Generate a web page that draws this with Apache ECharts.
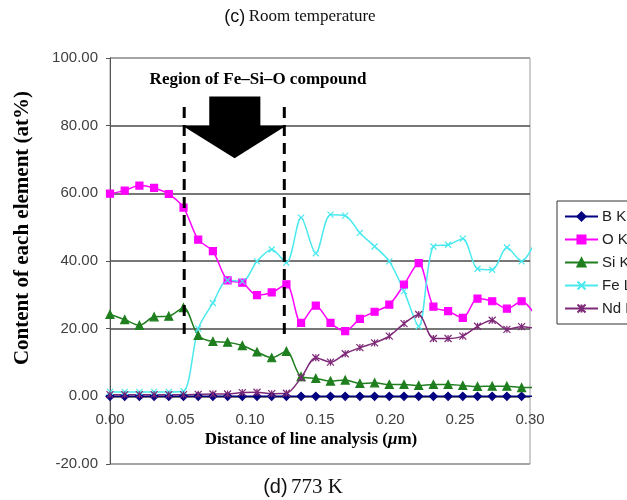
<!DOCTYPE html>
<html>
<head>
<meta charset="utf-8">
<script src="https://cdn.jsdelivr.net/npm/echarts@6.0.0/dist/echarts.min.js"></script>
<style>
  html, body { margin: 0; padding: 0; background: #fff; }
  #chart { width: 627px; height: 500px; }
</style>
</head>
<body>
<div id="chart"></div>
<script>
// distance of line analysis (um), measurement points
const distance = [0, 0.0105, 0.021, 0.0315, 0.042, 0.0525, 0.063, 0.0735, 0.084, 0.0945,
  0.105, 0.1155, 0.126, 0.1365, 0.147, 0.1575, 0.168, 0.1785, 0.189, 0.1995,
  0.21, 0.2205, 0.231, 0.2415, 0.252, 0.2625, 0.273, 0.2835, 0.294, 0.3045]

// content of each element (at%)
const bK = [0, 0, 0, 0, 0, 0, 0, 0, 0, 0, 0, 0, 0, 0, 0, 0, 0, 0, 0, 0, 0, 0, 0, 0, 0, 0, 0, 0, 0, 0]
const oK = [59.9, 60.8, 62.3, 61.6, 59.8, 55.8, 46.3, 42.9, 34.3, 33.6, 29.9, 30.7, 33.1, 21.7, 26.8,
  21.7, 19.3, 22.9, 25.0, 27.1, 33.0, 39.4, 26.5, 25.2, 23.2, 28.9, 28.1, 25.9, 28.1, 23.5]
const siK = [24.2, 22.7, 21.0, 23.5, 23.7, 26.2, 18.0, 16.2, 16.0, 15.0, 13.1, 11.4, 13.3, 5.8, 5.3,
  4.5, 4.8, 3.8, 4.0, 3.5, 3.5, 3.2, 3.5, 3.5, 3.2, 2.9, 3.0, 3.0, 2.6, 2.6]
const feL = [1.3, 1.3, 1.3, 1.3, 1.3, 1.5, 20.0, 27.6, 34.3, 34.0, 39.9, 43.4, 39.5, 52.8, 42.3,
  53.7, 53.4, 48.3, 44.3, 39.9, 31.1, 20.7, 44.3, 44.8, 46.6, 37.7, 37.4, 44.0, 39.9, 46.5]
const ndL = [0.5, 0.5, 0.5, 0.5, 0.5, 0.5, 0.6, 0.7, 0.7, 1.1, 1.2, 0.8, 0.9, 5.5, 11.4,
  10.1, 12.6, 14.4, 15.8, 17.8, 21.5, 24.2, 17.1, 17.1, 17.8, 20.7, 22.5, 19.8, 20.6, 20.0]

const seriesNames = ['B K', 'O K', 'Si K', 'Fe L', 'Nd L']
const yTicks = [-20, 100, 20]  // min, max, interval
const xTicks = [0, 0.3, 0.05]

// region annotation (data coords)
const regionLeft = [[0.053, 85.5], [0.053, 16.8]]
const regionRight = [[0.1245, 85.5], [0.1245, 16.8]]
const arrowShape = [[0.0709, 88.6], [0.1074, 88.6], [0.1074, 80], [0.1258, 80],
  [0.089, 70.4], [0.0518, 80], [0.0709, 80]]

const serif = 'Liberation Serif, Times New Roman, serif'
const sans = 'Liberation Sans, Arial, sans-serif'

function pairs(values) {
  return values.map((v, i) => [distance[i], v])
}

function elementSeries(name, values, color, symbol, size) {
  return {
    name: name,
    type: 'line',
    data: pairs(values),
    smooth: 0.3,
    symbol: symbol,
    symbolSize: size,
    showAllSymbol: true,
    clip: true,
    lineStyle: { color: color, width: 1.5 },
    itemStyle: { color: color, borderColor: color, borderWidth: 1.2 },
    emphasis: { disabled: true },
    z: 3
  }
}

const chart = echarts.init(document.getElementById('chart'), null, { renderer: 'canvas' })

const option = {
  animation: false,
  backgroundColor: '#fff',
  grid: { left: 110, right: 97, top: 58, bottom: 36, show: true, borderColor: '#999', borderWidth: 1 },
  legend: {
    orient: 'vertical',
    left: 557,
    top: 201,
    padding: [8, 8, 8, 7],
    itemGap: 8,
    itemWidth: 33,
    itemHeight: 10,
    borderColor: '#333',
    borderWidth: 1,
    backgroundColor: '#fff',
    data: seriesNames,
    textStyle: { fontFamily: sans, fontSize: 15, color: '#222', padding: [0, 0, 0, -1] }
  },
  xAxis: {
    type: 'value',
    min: xTicks[0],
    max: xTicks[1],
    interval: xTicks[2],
    axisLine: { onZero: true, lineStyle: { color: '#555', width: 1 } },
    axisTick: { show: false },
    splitLine: { show: false },
    axisLabel: {
      fontFamily: sans, fontSize: 15, color: '#404040', margin: -52,
      formatter: v => v.toFixed(2)
    }
  },
  yAxis: {
    type: 'value',
    min: yTicks[0],
    max: yTicks[1],
    interval: yTicks[2],
    axisLine: { show: true, lineStyle: { color: '#555', width: 1 } },
    axisTick: { show: true, length: 4, lineStyle: { color: '#555' } },
    splitLine: { show: true, lineStyle: { color: ['#999', '#4a4a4a', '#4a4a4a', '#4a4a4a', '#4a4a4a', '#4a4a4a', '#999'], width: 1.6 } },
    axisLabel: {
      fontFamily: sans, fontSize: 15, color: '#404040', margin: 12,
      formatter: v => v.toFixed(2)
    }
  },
  graphic: [
    {
      type: 'text', x: 300, y: 17,
      style: {
        text: '{s|(c)} {r|Room temperature}', align: 'center', verticalAlign: 'middle',
        rich: { s: { fontFamily: sans, fontSize: 18, fill: '#111' }, r: { fontFamily: serif, fontSize: 17, fill: '#111' } }
      }
    },
    {
      type: 'text', x: 303, y: 487,
      style: {
        text: '{s|(d)} {r|773 K}', align: 'center', verticalAlign: 'middle',
        rich: { s: { fontFamily: sans, fontSize: 20, fill: '#111' }, r: { fontFamily: serif, fontSize: 21, fill: '#111' } }
      }
    },
    {
      type: 'text', x: 258, y: 80, z: 10,
      style: { text: 'Region of Fe\u2013Si\u2013O compound', align: 'center', verticalAlign: 'middle', font: 'bold 17px ' + serif, fill: '#000' }
    },
    {
      type: 'text', x: 311, y: 440, z: 10,
      style: {
        text: '{b|Distance of line analysis (}{i|\u03bc}{b|m)}', align: 'center', verticalAlign: 'middle',
        rich: {
          b: { fontFamily: serif, fontWeight: 'bold', fontSize: 17, fill: '#000' },
          i: { fontFamily: serif, fontWeight: 'bold', fontStyle: 'italic', fontSize: 17, fill: '#000' }
        }
      }
    },
    {
      type: 'text', x: 23, y: 228, rotation: Math.PI / 2, z: 10,
      style: { text: 'Content of each element (at%)', align: 'center', verticalAlign: 'middle', font: 'bold 21px ' + serif, fill: '#000' }
    }
  ],
  series: [
    elementSeries(seriesNames[0], bK, '#000080', 'diamond', 8),
    elementSeries(seriesNames[1], oK, '#ff00ff', 'rect', 7),
    elementSeries(seriesNames[2], siK, '#1f7f1f', 'triangle', 8),
    elementSeries(seriesNames[3], feL, '#4ae9ee', 'path://M0,0L10,10M10,0L0,10', 6),
    elementSeries(seriesNames[4], ndL, '#7e2a78', 'path://M0,0L10,10M10,0L0,10M5,0L5,10', 7),
    {
      type: 'line', data: regionLeft, symbol: 'none', silent: true, z: 5,
      lineStyle: { color: '#000', width: 3, type: [11, 7] }
    },
    {
      type: 'line', data: regionRight, symbol: 'none', silent: true, z: 5,
      lineStyle: { color: '#000', width: 3, type: [11, 7] }
    },
    {
      type: 'custom', silent: true, z: 6,
      data: [0],
      renderItem: function (params, api) {
        return {
          type: 'polygon',
          shape: { points: arrowShape.map(p => api.coord(p)) },
          style: { fill: '#000' }
        }
      }
    }
  ]
}

chart.setOption(option)
</script>
</body>
</html>
